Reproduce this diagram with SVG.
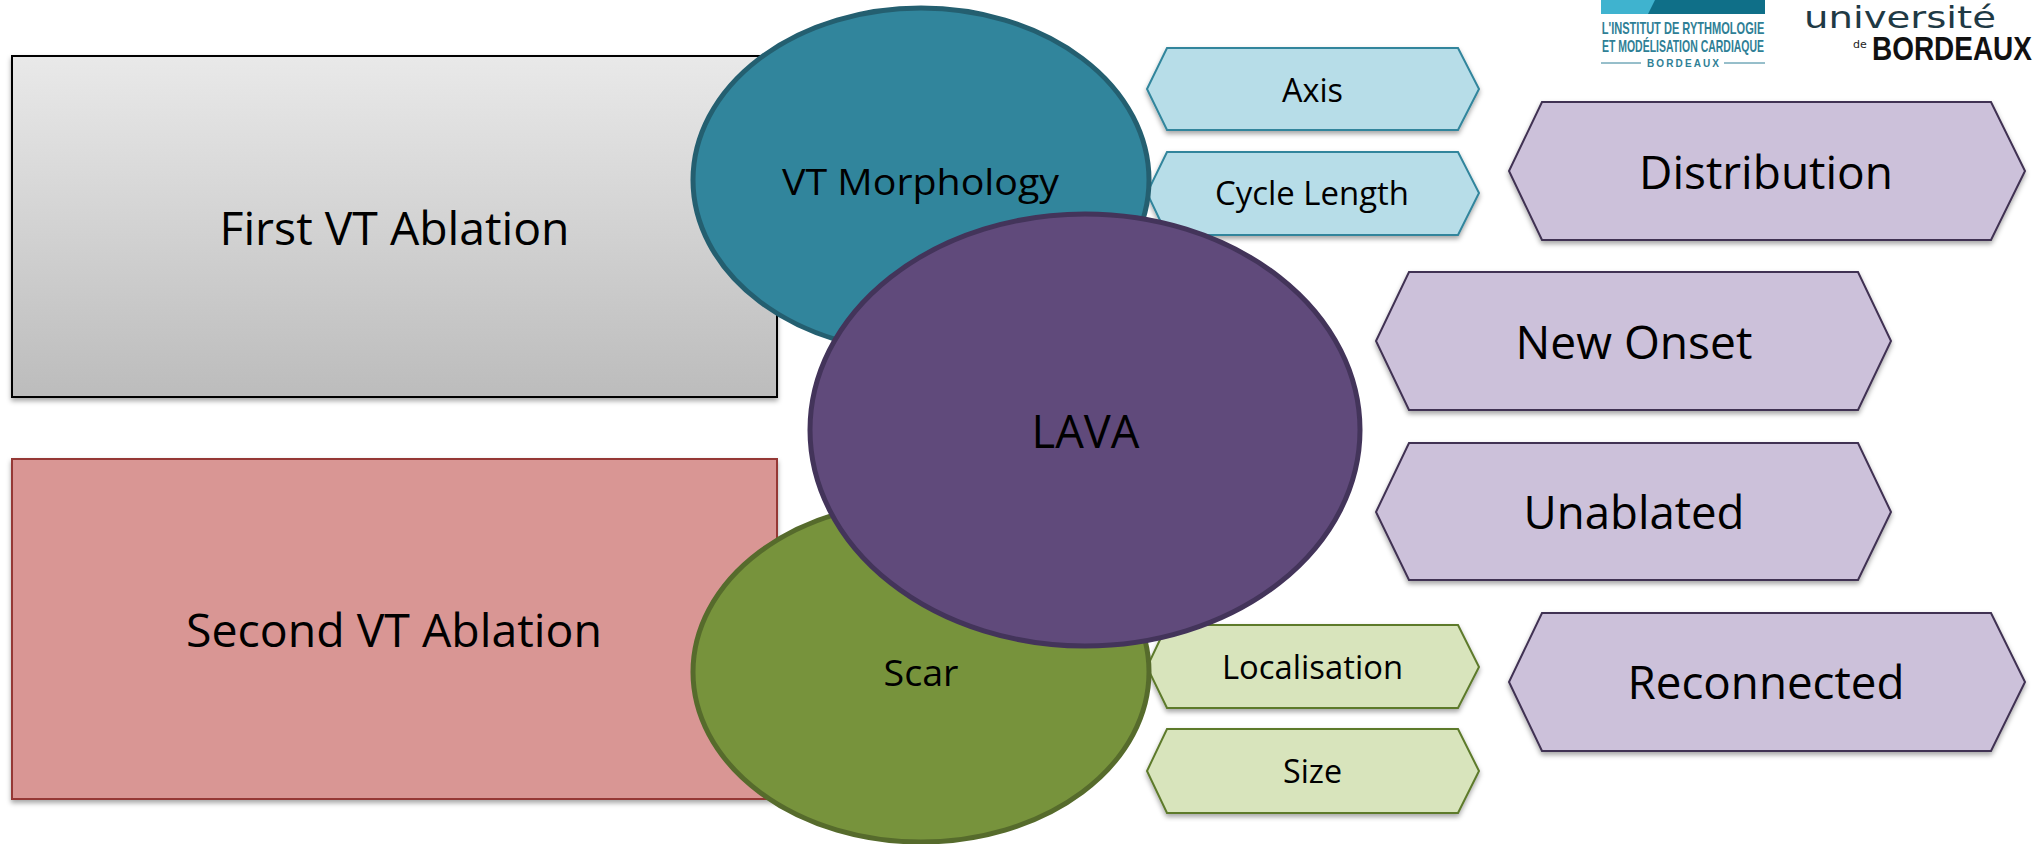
<svg xmlns="http://www.w3.org/2000/svg" width="2038" height="844" viewBox="0 0 2038 844">
<style>
text{font-family:"Open Sans","Noto Sans","Liberation Sans",sans-serif;fill:#000}
.big{font-size:45px}.mid{font-size:36px}.sm{font-size:32px}
.blue{fill:#b7dde8;stroke:#31859c;stroke-width:2}
.green{fill:#d8e4bc;stroke:#5d7a2c;stroke-width:2}
.purple{fill:#ccc1da;stroke:#403152;stroke-width:2}
text.logo{fill:#2f7f96;font-family:"Liberation Sans",sans-serif;font-weight:700}
text.uni{font-family:"DejaVu Sans",sans-serif}
</style>
<defs>
<linearGradient id="g" x1="0" y1="0" x2="0" y2="1"><stop offset="0" stop-color="#e9e9e9"/><stop offset="1" stop-color="#bcbcbc"/></linearGradient>
<filter id="s" x="-5%" y="-5%" width="110%" height="115%"><feDropShadow dx="0" dy="3" stdDeviation="2.5" flood-color="#000" flood-opacity=".35"/></filter>
</defs>
<rect width="2038" height="844" fill="#fff"/>
<g id="connectors"/>
<g id="first-vt"><rect x="12" y="56" width="765" height="341" fill="url(#g)" stroke="#000" stroke-width="2" filter="url(#s)"/><text class="big" x="394.500" y="245" text-anchor="middle" textLength="350" lengthAdjust="spacingAndGlyphs">First VT Ablation</text></g>
<g id="second-vt"><rect x="12" y="459" width="765" height="340" fill="#d99694" stroke="#953735" stroke-width="2" filter="url(#s)"/><text class="big" x="394" y="647" text-anchor="middle" textLength="416" lengthAdjust="spacingAndGlyphs">Second VT Ablation</text></g>
<g id="axis"><polygon class="blue" filter="url(#s)" points="1167,48 1458,48 1479,89 1458,130 1167,130 1147,89"/><text class="sm" x="1312.500" y="102" text-anchor="middle" textLength="61" lengthAdjust="spacingAndGlyphs">Axis</text></g>
<g id="cycle-length"><polygon class="blue" filter="url(#s)" points="1167,152 1458,152 1479,193 1458,235 1167,235 1147,193"/><text class="sm" x="1312" y="205" text-anchor="middle" textLength="194" lengthAdjust="spacingAndGlyphs">Cycle Length</text></g>
<g id="vt-morphology"><ellipse cx="921" cy="180" rx="228" ry="172" fill="#31859c" stroke="#245f70" stroke-width="5"/><text class="mid" x="920.500" y="195" text-anchor="middle" textLength="277" lengthAdjust="spacingAndGlyphs">VT Morphology</text></g>
<g id="localisation"><polygon class="green" filter="url(#s)" points="1167,625 1458,625 1479,667 1458,708 1167,708 1147,667"/><text class="sm" x="1312.500" y="679" text-anchor="middle" textLength="181" lengthAdjust="spacingAndGlyphs">Localisation</text></g>
<g id="size"><polygon class="green" filter="url(#s)" points="1167,729 1458,729 1479,771 1458,813 1167,813 1147,771"/><text class="sm" x="1312.500" y="783" text-anchor="middle" textLength="59" lengthAdjust="spacingAndGlyphs">Size</text></g>
<g id="scar"><ellipse cx="921" cy="672" rx="228" ry="170" fill="#77933c" stroke="#566b2c" stroke-width="5"/><text class="mid" x="921" y="686" text-anchor="middle" textLength="75" lengthAdjust="spacingAndGlyphs">Scar</text></g>
<g id="lava"><ellipse cx="1085" cy="430" rx="275" ry="216" fill="#604a7b" stroke="#43345a" stroke-width="5"/><text class="big" x="1085.500" y="448" text-anchor="middle" textLength="108" lengthAdjust="spacingAndGlyphs">LAVA</text></g>
<g id="distribution"><polygon class="purple" filter="url(#s)" points="1542,102 1991,102 2025,171 1991,240 1542,240 1509,171"/><text class="big" x="1766" y="189" text-anchor="middle" textLength="254" lengthAdjust="spacingAndGlyphs">Distribution</text></g>
<g id="new-onset"><polygon class="purple" filter="url(#s)" points="1409,272 1858,272 1891,341 1858,410 1409,410 1376,341"/><text class="big" x="1634" y="359" text-anchor="middle" textLength="237" lengthAdjust="spacingAndGlyphs">New Onset</text></g>
<g id="unablated"><polygon class="purple" filter="url(#s)" points="1409,443 1858,443 1891,512 1858,580 1409,580 1376,512"/><text class="big" x="1634" y="529" text-anchor="middle" textLength="221" lengthAdjust="spacingAndGlyphs">Unablated</text></g>
<g id="reconnected"><polygon class="purple" filter="url(#s)" points="1542,613 1991,613 2025,682 1991,751 1542,751 1509,682"/><text class="big" x="1766" y="699" text-anchor="middle" textLength="277" lengthAdjust="spacingAndGlyphs">Reconnected</text></g>
<g id="logo-institut">
<rect x="1601" y="0" width="164" height="14" fill="#0f6f88"/><polygon points="1601,0 1655,0 1648,14 1601,14" fill="#3fb3cf"/>
<text class="logo" transform="translate(1683 34) scale(.691 1)" text-anchor="middle" font-size="16">L'INSTITUT DE RYTHMOLOGIE</text>
<text class="logo" transform="translate(1683 52) scale(.655 1)" text-anchor="middle" font-size="16">ET MODÉLISATION CARDIAQUE</text>
<text class="logo" x="1683" y="67" text-anchor="middle" font-size="10" textLength="72" lengthAdjust="spacing">BORDEAUX</text>
<path d="M1601 63H1641M1724 63H1765" stroke="#2f7f96" stroke-width="1"/>
</g>
<g id="logo-universite">
<text class="uni" transform="translate(1804 28) scale(1.288 1)" font-size="30" style="fill:#1f3a45">université</text>
<text class="uni" x="1853" y="48" font-size="11" style="fill:#222">de</text>
<text class="uni" transform="translate(1872 60) scale(.822 1)" font-size="34" font-weight="700" style="fill:#111;font-family:'Liberation Sans',sans-serif">BORDEAUX</text>
</g>
</svg>
